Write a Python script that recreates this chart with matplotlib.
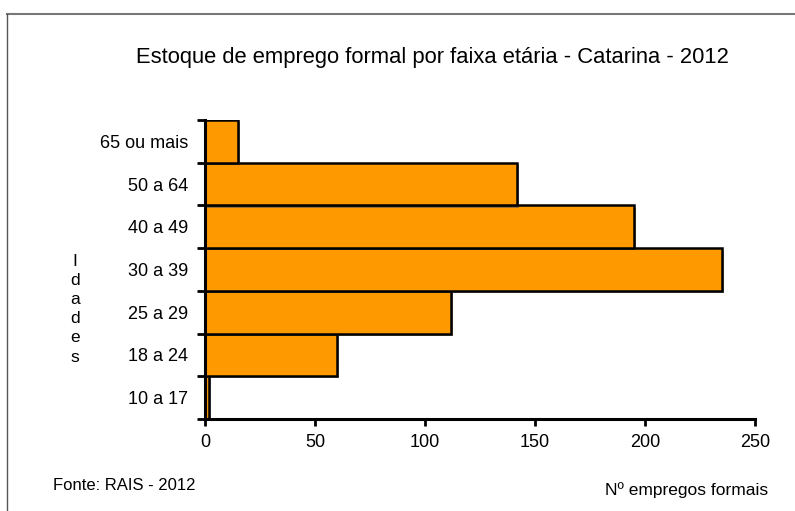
import numpy as np
import matplotlib
matplotlib.use("Agg")
import matplotlib.pyplot as plt
import matplotlib.patheffects as pe
from matplotlib.lines import Line2D

plt.rcParams["font.family"] = ["Liberation Sans", "DejaVu Sans"]

faixas = ["10 a 17", "18 a 24", "25 a 29", "30 a 39", "40 a 49", "50 a 64", "65 ou mais"]
empregos = [2, 60, 112, 235, 195, 142, 15]
xticks = [0, 50, 100, 150, 200, 250]

fig = plt.figure(figsize=(7.95, 5.11), dpi=100)
ax = fig.add_axes([205/795, 1-419/511, 550/795, 299/511])

y = np.arange(len(faixas))
bars = ax.barh(y, empregos, height=1.0, color="#ff9900", edgecolor="black",
               linewidth=1.8, zorder=2)
for b in bars:
    b.set_path_effects([pe.SimplePatchShadow(offset=(1.5, -1.5), shadow_rgbFace="#555555", alpha=0.6),
                        pe.Normal()])

ax.set_xlim(0, 250)
ax.set_ylim(-0.5, len(faixas) - 0.5)
ax.set_xticks(xticks)
ax.set_xticklabels([str(v) for v in xticks], fontsize=13)
ax.set_yticks(np.arange(-0.5, len(faixas), 1.0))
ax.set_yticklabels([])
ax.set_yticks(y, minor=True)
ax.set_yticklabels(faixas, minor=True, fontsize=13)
ax.tick_params(axis="y", which="minor", length=0, pad=12)
ax.tick_params(axis="y", which="major", length=6, width=2)
ax.tick_params(axis="x", length=5, width=2, pad=6)
for s in ["top", "right"]:
    ax.spines[s].set_visible(False)
for s in ["left", "bottom"]:
    ax.spines[s].set_linewidth(2.2)
    ax.spines[s].set_zorder(3)

fig.text(0.544, 1-57/511, "Estoque de emprego formal por faixa etária - Catarina - 2012",
         ha="center", va="center", fontsize=15.8)
fig.text(75/795, 1-309/511, "I\nd\na\nd\ne\ns", ha="center", va="center",
         fontsize=12.5, linespacing=1.35)
fig.text(53/795, 1-485/511, "Fonte: RAIS - 2012", ha="left", va="center", fontsize=12)
fig.text(768/795, 1-490/511, "Nº empregos formais", ha="right", va="center", fontsize=12.5)

# moldura
fig.add_artist(Line2D([7/795, 1], [1-14.5/511, 1-14.5/511], transform=fig.transFigure,
                      color="#777777", lw=1.5))
fig.add_artist(Line2D([7/795, 7/795], [0, 1-14.5/511], transform=fig.transFigure,
                      color="#555555", lw=1.0))

plt.savefig("out.png", dpi=100)
